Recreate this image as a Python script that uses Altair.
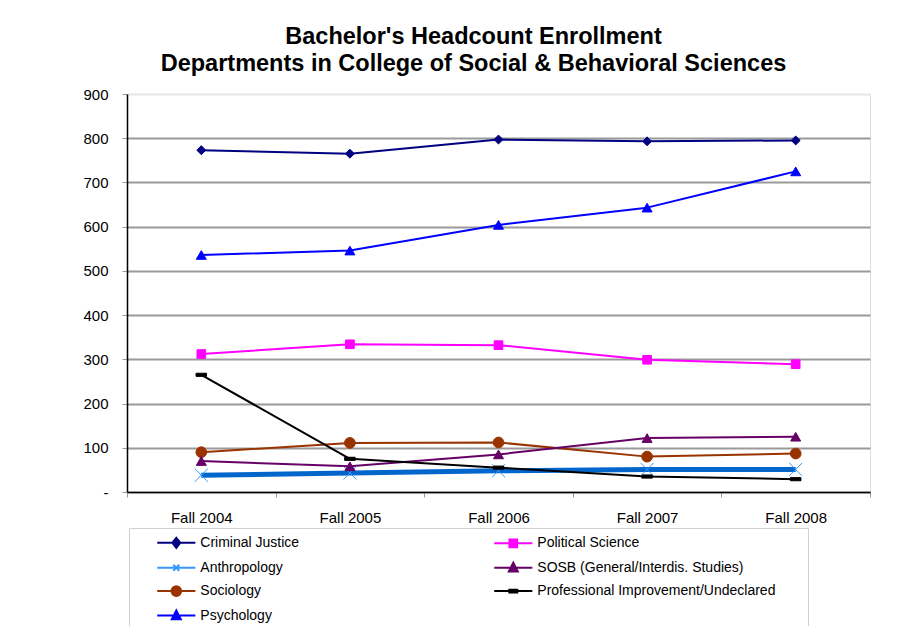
import altair as alt
import pandas as pd

years = ["Fall 2004", "Fall 2005", "Fall 2006", "Fall 2007", "Fall 2008"]
series_names = [
    "Criminal Justice",
    "Anthropology",
    "Sociology",
    "Psychology",
    "Political Science",
    "SOSB (General/Interdis. Studies)",
    "Professional Improvement/Undeclared",
]
criminal_justice = [773, 765, 797, 793, 795]
anthropology = [38, 43, 48, 51, 51]
sociology = [90, 111, 112, 80, 87]
psychology = [536, 546, 604, 643, 725]
political_science = [312, 334, 332, 299, 289]
sosb = [70, 58, 85, 122, 125]
prof_improvement = [265, 75, 55, 35, 29]

values = [criminal_justice, anthropology, sociology, psychology,
          political_science, sosb, prof_improvement]

rows = []
for name, vals in zip(series_names, values):
    for yr, v in zip(years, vals):
        rows.append({"year": yr, "series": name, "value": v})
df = pd.DataFrame(rows)

# styles, in the order of series_names
line_colors = ["#000080", "#0066CC", "#993300", "#0000FF", "#FF00FF", "#660066", "#000000"]
fill_colors = ["#000080", "transparent", "#993300", "#0000FF", "#FF00FF", "#660066", "#000000"]
stroke_colors = ["#000080", "#3399FF", "#993300", "#0000FF", "#FF00FF", "#660066", "#000000"]
marker_shapes = [
    "diamond",
    "M-1,-1L1,1M-1,1L1,-1",
    "circle",
    "triangle-up",
    "square",
    "triangle-up",
    "M-1,-0.3H1V0.3H-1Z",
]
legend_shapes = [
    "M-1.78,0H1.78M0,-0.47L0.37,0L0,0.47L-0.37,0Z",
    "M-1.78,0H1.78M-0.28,-0.28L0.28,0.28M-0.28,0.28L0.28,-0.28",
    "M-1.78,0H1.78M0.45,0A0.45,0.45 0 1,1 -0.45,0A0.45,0.45 0 1,1 0.45,0Z",
    "M-1.78,0H1.78M0,-0.47L0.42,0.35L-0.42,0.35Z",
    "M-1.78,0H1.78M-0.36,-0.36H0.36V0.36H-0.36Z",
    "M-1.78,0H1.78M0,-0.47L0.42,0.35L-0.42,0.35Z",
    "M-1.78,0H1.78M-0.37,-0.12H0.37V0.12H-0.37Z",
]
legend_fill = fill_colors
legend_stroke = stroke_colors

FONT = "Liberation Sans"
BLANK = "\u2800" * 3  # blank spacer that widens the legend box on the right

x_enc = alt.X(
    "year:N",
    sort=years,
    scale=alt.Scale(type="band", paddingInner=0, paddingOuter=0),
    axis=alt.Axis(
        title=None, labelAngle=0, labelFontSize=15, labelFont=FONT, labelColor="#000",
        labelPadding=13, tickBand="extent", tickSize=5, tickColor="#999",
        domainColor="#000", domainWidth=1.5, grid=False,
    ),
)
y_enc = alt.Y(
    "value:Q",
    scale=alt.Scale(domain=[0, 900], nice=False),
    axis=alt.Axis(
        title=None, values=[0, 100, 200, 300, 400, 500, 600, 700, 800, 900],
        labelExpr="datum.value == 0 ? '-' : datum.label",
        labelFontSize=15, labelFont=FONT, labelColor="#000", labelPadding=14,
        tickSize=5, tickColor="#999", domainColor="#000", domainWidth=1.5,
        grid=True,
        gridColor=alt.ConditionalAxisColor(
            condition={"test": "datum.value == 900", "value": "#e6e6e6"}, value="#9a9a9a"
        ),
        gridWidth=2,
    ),
)

base = alt.Chart(df)

is_anth = alt.datum.series == "Anthropology"

lines = base.mark_line(strokeJoin="round").encode(
    x=x_enc,
    y=y_enc,
    color=alt.Color("series:N", scale=alt.Scale(domain=series_names, range=line_colors), legend=None),
    strokeWidth=alt.when(is_anth).then(alt.value(5)).otherwise(alt.value(2)),
)

marker_size = (
    alt.when(alt.datum.series == "Anthropology").then(alt.value(170))
    .when(alt.datum.series == "Sociology").then(alt.value(115))
    .when(alt.datum.series == "Criminal Justice").then(alt.value(80))
    .when(alt.datum.series == "Political Science").then(alt.value(75))
    .when(alt.datum.series == "Professional Improvement/Undeclared").then(alt.value(110))
    .otherwise(alt.value(100))
)

points = base.mark_point(strokeWidth=1, opacity=1).encode(
    x=x_enc,
    y=y_enc,
    fill=alt.Fill("series:N", scale=alt.Scale(domain=series_names, range=fill_colors), legend=None),
    stroke=alt.Stroke("series:N", scale=alt.Scale(domain=series_names, range=stroke_colors), legend=None),
    shape=alt.Shape("series:N", scale=alt.Scale(domain=series_names, range=marker_shapes), legend=None),
    size=marker_size,
)

leg = alt.Legend(
    title=BLANK, titleOrient="right", titleFontSize=14, titlePadding=0, titleColor="#ffffff",
    orient="none", legendX=2, legendY=434, columns=2, columnPadding=169,
    rowPadding=3.4, symbolSize=458, symbolStrokeWidth=2, labelFontSize=14, labelFont=FONT,
    labelColor="#000", labelOffset=12, labelLimit=500, padding=2.3, symbolOffset=33,
    strokeColor="#d0d0d0", fillColor="#ffffff", symbolOpacity=1,
)

legend_layer = base.mark_point(strokeWidth=2, opacity=1).encode(
    x=x_enc,
    y=y_enc,
    fill=alt.Fill("series:N", scale=alt.Scale(domain=series_names, range=legend_fill), legend=leg),
    stroke=alt.Stroke("series:N", scale=alt.Scale(domain=series_names, range=legend_stroke), legend=leg),
    shape=alt.Shape("series:N", scale=alt.Scale(domain=series_names, range=legend_shapes), legend=leg),
).transform_filter("false")

chart = alt.layer(lines, points, legend_layer).resolve_scale(
    fill="independent", stroke="independent", shape="independent"
).properties(
    width=743,
    height=398,
    autosize=alt.AutoSizeParams(type="none"),
    padding={"left": 119, "top": 86, "right": 28, "bottom": 134},
    title=alt.TitleParams(
        ["Bachelor's Headcount Enrollment", "Departments in College of Social & Behavioral Sciences"],
        font=FONT, fontSize=23.5, fontWeight="bold", color="#000", anchor="middle",
        lineHeight=27, offset=12, dx=-25,
    ),
).configure_view(stroke=None).configure(background="#ffffff")

chart.save("out.html", embed_options={"renderer": "svg", "actions": False})
